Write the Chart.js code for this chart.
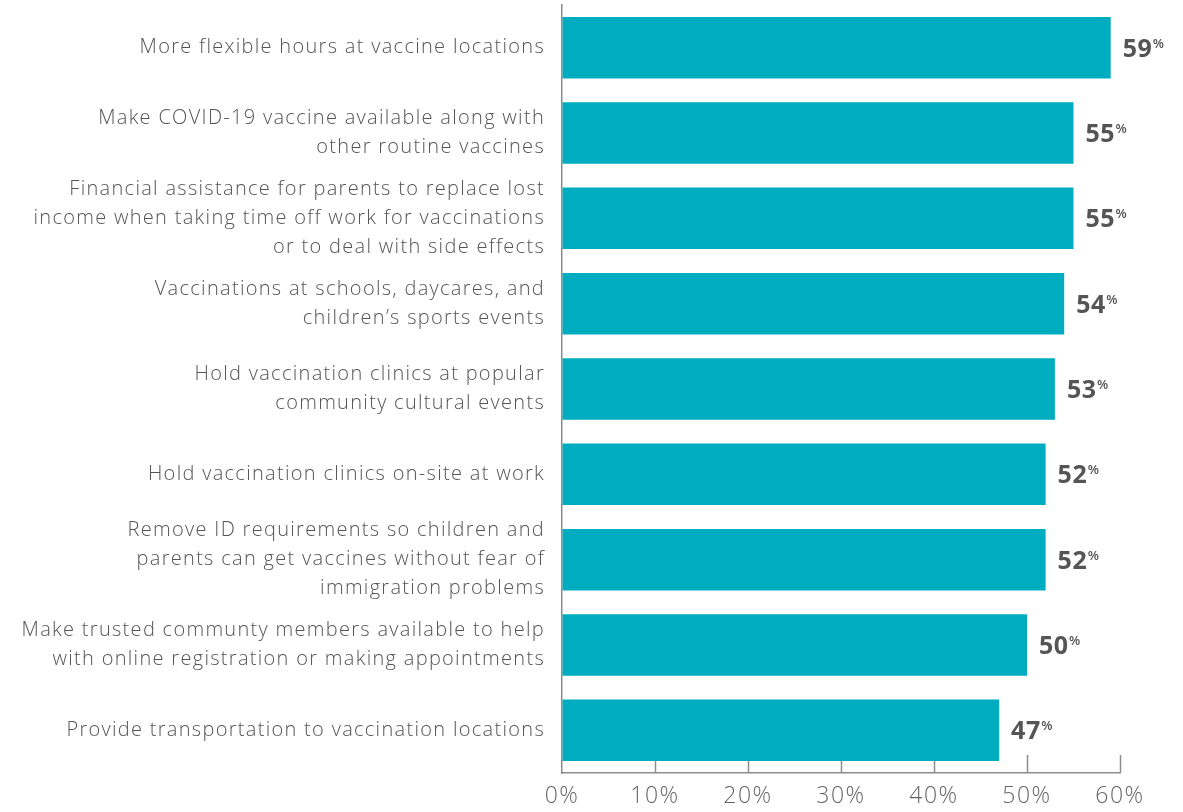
<!DOCTYPE html>
<html><head><meta charset="utf-8">
<script src="https://cdn.jsdelivr.net/npm/chart.js@4"></script>
<style>html,body{margin:0;padding:0;background:#fff}#wrap{width:1183px;height:812px}</style>
</head><body><div id="wrap"><canvas id="c"></canvas></div>
<script>
const categories = [
  ["More flexible hours at vaccine locations"],
  ["Make COVID-19 vaccine available along with", "other routine vaccines"],
  ["Financial assistance for parents to replace lost", "income when taking time off work for vaccinations", "or to deal with side effects"],
  ["Vaccinations at schools, daycares, and", "children\u2019s sports events"],
  ["Hold vaccination clinics at popular", "community cultural events"],
  ["Hold vaccination clinics on-site at work"],
  ["Remove ID requirements so children and", "parents can get vaccines without fear of", "immigration problems"],
  ["Make trusted communty members available to help", "with online registration or making appointments"],
  ["Provide transportation to vaccination locations"]
];
const values = [59, 55, 55, 54, 53, 52, 52, 50, 47];
const xTicks = [0, 10, 20, 30, 40, 50, 60];

const FONT = "'Open Sans'";
const innerTicks = {
  id: 'innerTicks',
  beforeDatasetsDraw(chart) {
    const x = chart.scales.x, ctx = chart.ctx, b = chart.chartArea.bottom;
    ctx.save();
    ctx.strokeStyle = '#8c8c8c'; ctx.lineWidth = 1.5;
    xTicks.forEach(t => {
      if (t === 0) return;
      const px = Math.round(x.getPixelForValue(t)) + 0.5;
      ctx.beginPath(); ctx.moveTo(px, b); ctx.lineTo(px, b - 18); ctx.stroke();
    });
    ctx.restore();
  }
};
const valueLabels = {
  id: 'valueLabels',
  afterDatasetsDraw(chart) {
    const ctx = chart.ctx, meta = chart.getDatasetMeta(0);
    ctx.save();
    ctx.fillStyle = '#555555';
    ctx.textBaseline = 'alphabetic';
    meta.data.forEach((bar, i) => {
      const v = String(values[i]);
      ctx.font = "bold 25px " + FONT;
      ctx.letterSpacing = '0.5px';
      const x0 = bar.x + 12, y0 = bar.y + 9;
      ctx.fillText(v, x0, y0);
      const w = ctx.measureText(v).width;
      ctx.letterSpacing = '0px';
      ctx.font = "600 13px " + FONT;
      ctx.fillText('%', x0 + w + 0.5, y0 - 9);
    });
    ctx.restore();
  }
};
function spaced(px) {
  return function (scale) {
    if (scale._spacedWrapped) return;
    scale._spacedWrapped = true;
    const orig = scale.drawLabels.bind(scale);
    scale.drawLabels = function (area) {
      const ctx = scale.ctx;
      const prev = ctx.letterSpacing;
      ctx.letterSpacing = px;
      orig(area);
      ctx.letterSpacing = prev || '0px';
    };
  };
}

new Chart(document.getElementById('c'), {
  type: 'bar',
  data: {
    labels: categories,
    datasets: [{
      data: values,
      backgroundColor: '#00acbf',
      barPercentage: 0.72,
      categoryPercentage: 1.0
    }]
  },
  options: {
    indexAxis: 'y',
    responsive: true,
    maintainAspectRatio: false,
    animation: false,
    layout: { padding: { top: 5, right: 63, bottom: 0, left: 0 } },
    plugins: { legend: { display: false }, tooltip: { enabled: false } },
    scales: {
      x: {
        min: 0, max: 60,
        afterBuildTicks(scale) { scale.ticks = xTicks.map(v => ({ value: v })); },
        afterFit(scale) { scale.height = 39; scale.paddingLeft = 0; scale.paddingRight = 0; },
        afterUpdate: spaced('1.5px'),
        grid: { display: true, drawOnChartArea: false, drawTicks: false },
        border: { display: true, color: '#8c8c8c', width: 1.5 },
        ticks: {
          padding: 10,
          color: '#666666',
          font: { family: FONT, size: 23, weight: 300 },
          callback: v => v + '%'
        }
      },
      y: {
        afterFit(scale) { scale.width = 562; scale.paddingTop = 0; scale.paddingBottom = 0; },
        afterUpdate: spaced('1.3px'),
        grid: { display: false, drawTicks: false },
        border: { display: true, color: '#8c8c8c', width: 1.5 },
        ticks: {
          autoSkip: false,
          padding: 17,
          color: '#555555',
          font: { family: FONT, size: 20, weight: 300, lineHeight: 1.45 }
        }
      }
    }
  },
  plugins: [innerTicks, valueLabels]
});
</script></body></html>
